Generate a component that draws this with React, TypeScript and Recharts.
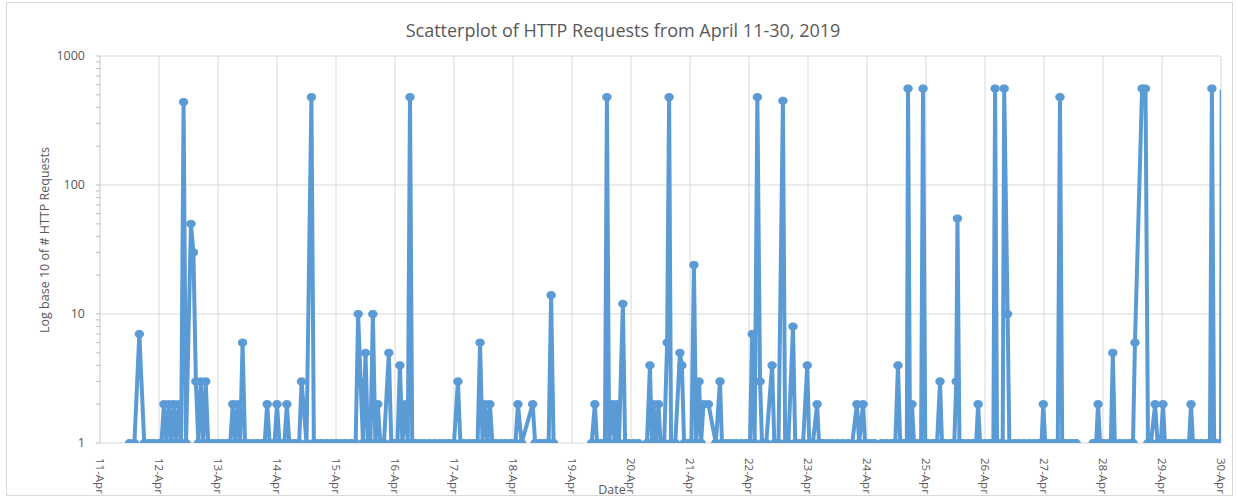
import { LineChart, Line, XAxis, YAxis, CartesianGrid, ReferenceLine } from "recharts";

// hours since 11-Apr 00:00 -> one tick per day
const dayTicks = [0, 24, 48, 72, 96, 120, 144, 168, 192, 216, 240, 264, 288, 312, 336, 360, 384, 408, 432, 456];
const dayLabels = [
  "11-Apr", "12-Apr", "13-Apr", "14-Apr", "15-Apr", "16-Apr", "17-Apr", "18-Apr", "19-Apr", "20-Apr",
  "21-Apr", "22-Apr", "23-Apr", "24-Apr", "25-Apr", "26-Apr", "27-Apr", "28-Apr", "29-Apr", "30-Apr",
];

const majorTicks = [1, 10, 100, 1000];
const minorTicks = [2, 3, 4, 5, 6, 7, 8, 9, 20, 30, 40, 50, 60, 70, 80, 90, 200, 300, 400, 500, 600, 700, 800, 900];

// [hour offset, # requests]  (null = no data, line breaks)
const readings: [number, number | null][] = [
  // 11-Apr
  [12, 1], [14, 1], [16, 7], [18, 1], [20, 1], [22, 1], [24, 1],
  // 12-Apr
  [25, 1], [26, 2], [27, 1], [28, 2], [29, 1], [30, 2], [31, 1], [32, 2], [33, 1], [34, 440], [35, 1],
  [37, 50], [38, 30], [39, 3], [40, 1], [41, 3], [42, 1], [43, 3], [44, 1], [46, 1], [48, 1],
  // 13-Apr
  [50, 1], [52, 1], [53, 1], [54, 2], [55, 1], [56, 2], [57, 1], [58, 6], [59, 1], [60, 1], [62, 1],
  [64, 1], [66, 1], [67, 1], [68, 2], [69, 1], [71, 1],
  // 14-Apr
  [72, 2], [73, 1], [75, 1], [76, 2], [77, 1], [79, 1], [81, 1], [82, 3], [84, 1], [86, 480], [87, 1],
  [88, 1], [90, 1], [92, 1], [94, 1], [96, 1],
  // 15-Apr
  [98, 1], [100, 1], [102, 1], [104, 1], [105, 10], [106, 3], [107, 1], [108, 5], [109, 1], [110, 1],
  [111, 10], [112, 1], [113, 2], [114, 1], [115.5, 1], [117.5, 5], [118.5, 1], [120, 1],
  // 16-Apr
  [121, 1], [122, 4], [123, 1], [124.3, 2], [125.2, 1], [126.1, 480], [127, 1], [128, 1], [130, 1],
  [132, 1], [134, 1], [136, 1], [138, 1], [140, 1], [142, 1], [144, 1],
  // 17-Apr
  [145.6, 3], [146.6, 1], [148, 1], [150, 1], [152, 1], [153.6, 1], [154.6, 6], [155.6, 1], [156.6, 2],
  [157.6, 1], [158.6, 2], [159.6, 1], [161, 1], [163, 1], [165, 1], [167, 1],
  // 18-Apr
  [169, 1], [170, 2], [171.5, 1], [176, 2], [177, 1], [179, 1], [181, 1], [182.5, 1], [183.5, 14],
  [184.5, 1], [190, null],
  // 19-Apr
  [200, 1], [201.3, 2], [202.2, 1], [204, 1], [205.4, 1], [206.2, 480], [207.1, 1], [208.5, 2],
  [209.3, 1], [210.2, 2], [211.1, 1], [212.7, 12], [213.6, 1], [215, 1], [217, 1], [219, 1], [220.5, null],
  // 20-Apr
  [222.5, 1], [223.7, 4], [224.5, 1], [225.2, 2], [226, 1], [227.2, 2], [228, 1], [229.5, 1], [230.7, 6],
  [231.5, 480], [232.3, 1], [234, 1], [235.9, 5], [236.7, 4], [237.6, 1], [239, 1], [240.6, 1],
  // 21-Apr
  [241.6, 24], [242.5, 1], [243.7, 3], [244.5, 1], [245.5, 2], [247.5, 2], [250.5, 1], [252.2, 3],
  [253, 1], [255, 1], [257, 1], [259, 1], [261, 1], [263, 1], [264.4, 1],
  // 22-Apr
  [265.3, 7], [266.3, 1], [267.4, 480], [268.5, 3], [269.3, 1], [271, 1], [273.4, 4], [274.3, 1],
  [276, 1], [277.8, 450], [278.7, 1], [280, 1], [281.9, 8], [282.8, 1], [284, 1], [286, 1],
  // 23-Apr
  [287.7, 4], [288.5, 1], [290, 1], [291.7, 2], [292.5, 1], [294, 1], [296, 1], [298, 1], [300, 1],
  [302, 1], [304, 1], [306, 1], [307.9, 2], [308.8, 1], [310.4, 2], [311.2, 1], [313, 1], [315, 1],
  [316.5, null],
  // 24-Apr
  [318, 1], [320, 1], [322, 1], [323.5, 1], [324.6, 4], [325.5, 1], [327, 1], [328.2, 1], [328.7, 560],
  [329.5, 1], [330.3, 2], [331.1, 1], [333, 1], [334, 1], [334.8, 560], [335.7, 1], [337, 1], [339, 1],
  // 25-Apr
  [340.5, 1], [341.7, 3], [342.5, 1], [344, 1], [346, 1], [347.5, 1], [348.3, 3], [348.8, 55],
  [349.6, 1], [351, 1], [353, 1], [355, 1], [356.4, 1], [357.2, 2], [358, 1], [360, 1],
  // 26-Apr
  [362, 1], [363.4, 1], [364.1, 560], [364.9, 1], [366.5, 1], [367.2, 1], [367.8, 560], [369.2, 10],
  [369.9, 1], [372, 1], [374, 1], [376, 1], [378, 1], [380, 1], [382, 1], [383, 1], [383.7, 2], [384.5, 1],
  // 27-Apr
  [386, 1], [388, 1], [389.6, 1], [390.5, 480], [391.4, 1], [393, 1], [395, 1], [397, 1], [398.5, null],
  // 28-Apr
  [404, 1], [405.2, 1], [406, 2], [406.8, 1], [408, 1], [410, 1], [411.2, 1], [412, 5], [412.8, 1],
  [415, 1], [417, 1], [419, 1], [420.2, 1], [421, 6], [423.9, 560], [425.3, 560], [426.3, 1], [427.5, 1],
  [429.2, 2], [430.2, 1], [431.5, 1], [432.4, 2], [433.2, 1],
  // 29-Apr
  [435, 1], [437, 1], [439, 1], [441, 1], [443, 1], [443.8, 2], [444.6, 1], [446, 1], [448, 1],
  [450, 1], [451.5, 1], [452.3, 560], [453.2, 1], [454.5, 1], [456, 1], [456.3, 550],
];

const data = readings.map(([hour, requests]) => ({ hour, requests }));

const BLUE = "#5B9BD5";
const GRID = "#d9d9d9";
const TEXT = "#595959";
const FONT = "'Open Sans', 'Noto Sans', sans-serif";

function DayTick({ x, y, index }: any) {
  const label = dayLabels[index] ?? "";
  return (
    <text
      x={x}
      y={y + 7}
      transform={`rotate(90 ${x} ${y + 7})`}
      textAnchor="start"
      dominantBaseline="central"
      fontSize={11.5}
      fill={TEXT}
      fontFamily={FONT}
    >
      {label}
    </text>
  );
}

// excel-ish round markers; hide the point that sits past the right edge
function Marker(props: any) {
  const { cx, cy, payload, index } = props;
  if (payload.requests == null || payload.hour > 456) return <g key={`d${index}`} />;
  return <ellipse key={`d${index}`} cx={cx} cy={cy} rx={4.2} ry={3.6} fill={BLUE} stroke={BLUE} strokeWidth={1} />;
}

export default function App() {
  return (
    <div style={{ position: "absolute", left: 0, top: 0, width: 1238, height: 498, background: "#fff", fontFamily: FONT }}>
      <div
        style={{
          position: "absolute", left: 6, top: 2, width: 1227, height: 494,
          border: `1px solid ${GRID}`, boxSizing: "border-box",
        }}
      />
      <div style={{ position: "absolute", top: 18, left: 0, width: 1246, textAlign: "center", fontSize: 18, color: TEXT }}>
        Scatterplot of HTTP Requests from April 11-30, 2019
      </div>
      <div
        style={{
          position: "absolute", left: 44, top: 240, fontSize: 12.5, color: TEXT, whiteSpace: "nowrap",
          transform: "translate(-50%, -50%) rotate(-90deg)",
        }}
      >
        Log base 10 of # HTTP Requests
      </div>
      <div style={{ position: "absolute", left: 612, top: 489, fontSize: 12.5, color: TEXT, transform: "translate(-50%, -50%)" }}>
        Date
      </div>
      <LineChart
        width={1238}
        height={498}
        data={data}
        margin={{ top: 56, right: 17, bottom: 0, left: 40 }}
        style={{ position: "absolute", left: 0, top: 0 }}
      >
        <CartesianGrid vertical horizontal={false} stroke={GRID} />
        <XAxis
          dataKey="hour"
          type="number"
          domain={[0, 456]}
          ticks={dayTicks}
          interval={0}
          allowDataOverflow
          height={55}
          tickLine={false}
          axisLine={{ stroke: GRID }}
          tick={<DayTick />}
        />
        <YAxis
          type="number"
          scale="log"
          domain={[1, 1000]}
          allowDataOverflow
          ticks={[...majorTicks, ...minorTicks]}
          interval={0}
          width={60}
          tickSize={4}
          tickMargin={11}
          axisLine={{ stroke: GRID }}
          tickLine={{ stroke: "#bfbfbf" }}
          tickFormatter={(v: number) => (majorTicks.includes(v) ? String(v) : "")}
          tick={{ fontSize: 12.5, fill: TEXT, fontFamily: FONT }}
        />
        {majorTicks.slice(1).map((v) => (
          <ReferenceLine key={v} y={v} stroke={GRID} />
        ))}
        <Line
          type="linear"
          dataKey="requests"
          stroke={BLUE}
          strokeWidth={4}
          dot={Marker}
          activeDot={false}
          connectNulls={false}
          isAnimationActive={false}
        />
      </LineChart>
    </div>
  );
}
